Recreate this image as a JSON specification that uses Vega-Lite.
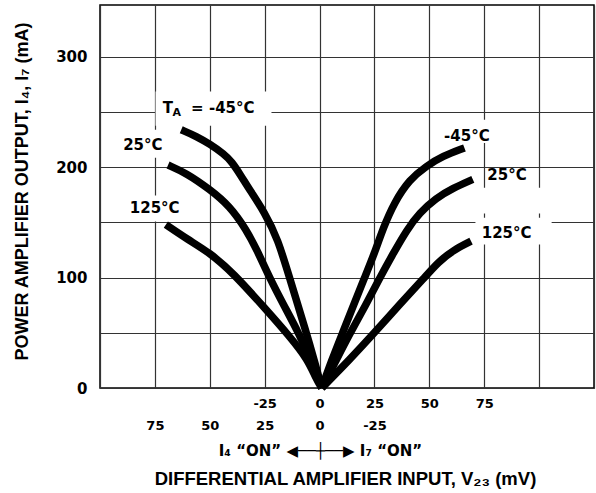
{
  "$schema": "https://vega.github.io/schema/vega-lite/v6.json",
  "width": 494,
  "height": 383,
  "autosize": {"type": "none"},
  "padding": {"left": 100, "top": 5, "right": 2, "bottom": 105},
  "background": "white",
  "config": {
    "view": {"stroke": "#000", "strokeWidth": 1.5},
    "axis": {"gridColor": "#333", "gridWidth": 1.2, "gridOpacity": 1, "ticks": false, "domain": false, "labelColor": "#000", "titleColor": "#000"}
  },
  "datasets": {
    "curves": [
      {"t": "-45L", "v": -63, "I": 234}, {"t": "-45L", "v": -56, "I": 228}, {"t": "-45L", "v": -50, "I": 221}, {"t": "-45L", "v": -43.5, "I": 212}, {"t": "-45L", "v": -40, "I": 205}, {"t": "-45L", "v": -36, "I": 193}, {"t": "-45L", "v": -32, "I": 180}, {"t": "-45L", "v": -25, "I": 159}, {"t": "-45L", "v": -19, "I": 135}, {"t": "-45L", "v": -13.7, "I": 100}, {"t": "-45L", "v": -6, "I": 50}, {"t": "-45L", "v": -2.5, "I": 25.7}, {"t": "-45L", "v": 1, "I": 0},
      {"t": "25L", "v": -69, "I": 202}, {"t": "25L", "v": -61, "I": 195}, {"t": "25L", "v": -50, "I": 180}, {"t": "25L", "v": -41, "I": 165}, {"t": "25L", "v": -33.4, "I": 143.5}, {"t": "25L", "v": -28.5, "I": 125}, {"t": "25L", "v": -22.8, "I": 100}, {"t": "25L", "v": -16.3, "I": 75}, {"t": "25L", "v": -9.5, "I": 50}, {"t": "25L", "v": -4, "I": 25}, {"t": "25L", "v": 1, "I": 0},
      {"t": "125L", "v": -70, "I": 148}, {"t": "125L", "v": -60, "I": 134.5}, {"t": "125L", "v": -50, "I": 122.5}, {"t": "125L", "v": -39.5, "I": 104.5}, {"t": "125L", "v": -25, "I": 72.5}, {"t": "125L", "v": -13.7, "I": 47}, {"t": "125L", "v": -5.3, "I": 25.7}, {"t": "125L", "v": -1.5, "I": 8}, {"t": "125L", "v": 1, "I": 0},
      {"t": "-45R", "v": 1, "I": 0}, {"t": "-45R", "v": 5.5, "I": 25}, {"t": "-45R", "v": 10.5, "I": 50}, {"t": "-45R", "v": 15.5, "I": 75}, {"t": "-45R", "v": 20.5, "I": 100}, {"t": "-45R", "v": 25, "I": 122}, {"t": "-45R", "v": 29, "I": 145}, {"t": "-45R", "v": 34, "I": 168}, {"t": "-45R", "v": 41, "I": 189}, {"t": "-45R", "v": 48.6, "I": 201}, {"t": "-45R", "v": 56, "I": 210}, {"t": "-45R", "v": 66, "I": 217.5},
      {"t": "25R", "v": 1, "I": 0}, {"t": "25R", "v": 7.5, "I": 25}, {"t": "25R", "v": 14, "I": 50}, {"t": "25R", "v": 21, "I": 75}, {"t": "25R", "v": 27.5, "I": 100}, {"t": "25R", "v": 33, "I": 120}, {"t": "25R", "v": 39.8, "I": 143.5}, {"t": "25R", "v": 45.5, "I": 158.6}, {"t": "25R", "v": 53, "I": 172}, {"t": "25R", "v": 60.7, "I": 181}, {"t": "25R", "v": 69.8, "I": 189},
      {"t": "125R", "v": 1, "I": 0}, {"t": "125R", "v": 13.7, "I": 25.7}, {"t": "125R", "v": 25, "I": 50}, {"t": "125R", "v": 36.4, "I": 75.5}, {"t": "125R", "v": 47.8, "I": 100}, {"t": "125R", "v": 54, "I": 114}, {"t": "125R", "v": 61, "I": 125}, {"t": "125R", "v": 69, "I": 133}
    ],
    "boxes": [
      {"v": -74.7, "v2": -21.9, "I": 268.6, "I2": 237.7},
      {"v": -92.8, "v2": -68.3, "I": 233.9, "I2": 208.5},
      {"v": -89.3, "v2": -59.2, "I": 174.3, "I2": 150.8},
      {"v": 53.7, "v2": 80.1, "I": 243.1, "I2": 222},
      {"v": 69.5, "v2": 103.8, "I": 181.5, "I2": 158},
      {"v": 71, "v2": 105.7, "I": 154.3, "I2": 129.9}
    ],
    "labels": [
      {"lab": "25°C", "v": -80.5, "I": 220.5},
      {"lab": "125°C", "v": -75.1, "I": 163.1},
      {"lab": "-45°C", "v": 67.1, "I": 228},
      {"lab": "25°C", "v": 85.4, "I": 193.3},
      {"lab": "125°C", "v": 85.2, "I": 140.5}
    ],
    "ta": [
      {"lab": "T", "v": -71.4, "I": 254},
      {"lab": "= -45°C", "v": -58.5, "I": 254}
    ],
    "sub": [
      {"lab": "A", "v": -67, "I": 249}
    ]
  },
  "encoding": {
    "y": {
      "field": "I",
      "type": "quantitative",
      "scale": {"domain": [0, 347], "nice": false, "zero": true},
      "axis": {
        "title": "POWER AMPLIFIER OUTPUT, I₄, I₇ (mA)",
        "values": [0, 50, 100, 150, 200, 250, 300],
        "labelExpr": "datum.value % 100 == 0 ? datum.label : ''",
        "grid": true,
        "labelFont": "DejaVu Sans",
        "labelFontWeight": "bold",
        "labelFontSize": 15,
        "labelPadding": 13,
        "titleFont": "Liberation Sans",
        "titleFontWeight": "bold",
        "titleFontSize": 18,
        "titleX": -78,
        "titleY": 186,
        "titleAngle": -90,
        "titleAlign": "center",
        "titleBaseline": "middle"
      }
    }
  },
  "resolve": {"scale": {"x": "independent"}, "axis": {"x": "independent"}},
  "layer": [
    {
      "data": {"name": "boxes"},
      "mark": {"type": "rect", "color": "white", "stroke": null},
      "encoding": {
        "x": {
          "field": "v",
          "type": "quantitative",
          "scale": {"domain": [-100, 125], "nice": false, "zero": false},
          "axis": {
            "orient": "bottom",
            "values": [-100, -75, -50, -25, 0, 25, 50, 75, 100, 125],
            "grid": true,
            "labelExpr": "datum.value >= -25 && datum.value <= 75 ? (datum.value + '') : ''",
            "labelFont": "DejaVu Sans",
            "labelFontWeight": "bold",
            "labelFontSize": 13,
            "labelBaseline": "middle",
            "labelPadding": 15,
            "labelOverlap": false,
            "labelFlush": false,
            "title": "I₄ “ON” ◀──┼──▶ I₇ “ON”",
            "titleFont": "DejaVu Sans",
            "titleFontWeight": "bold",
            "titleFontSize": 15,
            "titleX": 220,
            "titleY": 62,
            "titleAlign": "center",
            "titleBaseline": "middle"
          }
        },
        "x2": {"field": "v2"},
        "y2": {"field": "I2"}
      }
    },
    {
      "data": {"name": "curves"},
      "mark": {"type": "line", "color": "black", "strokeWidth": 7.5, "interpolate": "basis", "strokeCap": "butt", "strokeJoin": "round"},
      "encoding": {
        "x": {
          "field": "v",
          "type": "quantitative",
          "scale": {"domain": [-100, 125], "nice": false, "zero": false},
          "axis": {
            "orient": "bottom",
            "values": [-75, -50, -25, 0, 25],
            "grid": false,
            "labelExpr": "datum.value == 0 ? '0' : ((-datum.value) + '')",
            "labelFont": "DejaVu Sans",
            "labelFontWeight": "bold",
            "labelFontSize": 13,
            "labelBaseline": "middle",
            "labelPadding": 37,
            "labelOverlap": false,
            "labelFlush": false,
            "title": "DIFFERENTIAL AMPLIFIER INPUT, V₂₃ (mV)",
            "titleFont": "Liberation Sans",
            "titleFontWeight": "bold",
            "titleFontSize": 18.5,
            "titleX": 245,
            "titleY": 90,
            "titleAlign": "center",
            "titleBaseline": "middle"
          }
        },
        "detail": {"field": "t"}
      }
    },
    {
      "data": {"name": "labels"},
      "mark": {"type": "text", "font": "DejaVu Sans", "fontWeight": "bold", "fontSize": 15, "align": "center", "baseline": "middle", "color": "black"},
      "encoding": {
        "x": {"field": "v", "type": "quantitative", "scale": {"domain": [-100, 125], "nice": false, "zero": false}, "axis": null},
        "text": {"field": "lab"}
      }
    },
    {
      "data": {"name": "ta"},
      "mark": {"type": "text", "font": "DejaVu Sans", "fontWeight": "bold", "fontSize": 15, "align": "left", "baseline": "middle", "color": "black"},
      "encoding": {
        "x": {"field": "v", "type": "quantitative", "scale": {"domain": [-100, 125], "nice": false, "zero": false}, "axis": null},
        "text": {"field": "lab"}
      }
    },
    {
      "data": {"name": "sub"},
      "mark": {"type": "text", "font": "DejaVu Sans", "fontWeight": "bold", "fontSize": 11, "align": "left", "baseline": "middle", "color": "black"},
      "encoding": {
        "x": {"field": "v", "type": "quantitative", "scale": {"domain": [-100, 125], "nice": false, "zero": false}, "axis": null},
        "text": {"field": "lab"}
      }
    }
  ]
}
